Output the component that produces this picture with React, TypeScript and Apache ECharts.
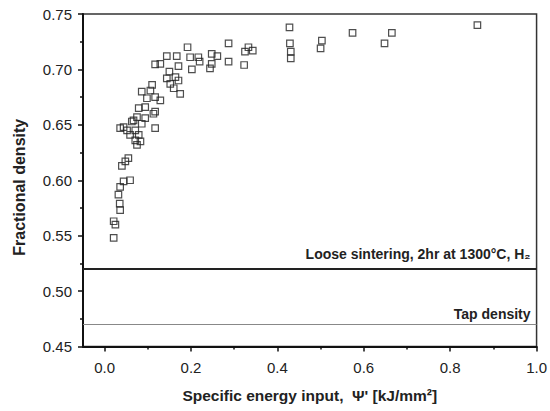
import React, { useEffect, useRef } from "react";
import * as echarts from "echarts";

// Measured points: [specific energy input (kJ/mm²), fractional density]
const densityPoints: [number, number][] = [
  [0.021, 0.548], [0.025, 0.56], [0.021, 0.563], [0.036, 0.573], [0.035, 0.579],
  [0.032, 0.587], [0.036, 0.594], [0.044, 0.599], [0.059, 0.6], [0.04, 0.613],
  [0.048, 0.617], [0.055, 0.62],
  [0.075, 0.632], [0.083, 0.635], [0.071, 0.636], [0.059, 0.641], [0.079, 0.641],
  [0.036, 0.647], [0.052, 0.645], [0.071, 0.645], [0.117, 0.647], [0.063, 0.653],
  [0.086, 0.651], [0.075, 0.657], [0.094, 0.656], [0.079, 0.665], [0.094, 0.666],
  [0.117, 0.662], [0.086, 0.68], [0.106, 0.681], [0.117, 0.675], [0.098, 0.674],
  [0.129, 0.672], [0.11, 0.686], [0.113, 0.66], [0.044, 0.648], [0.067, 0.654],
  [0.117, 0.7045], [0.129, 0.705], [0.144, 0.712], [0.167, 0.712], [0.171, 0.703],
  [0.15, 0.698], [0.164, 0.693], [0.144, 0.692], [0.152, 0.687], [0.171, 0.69],
  [0.16, 0.683], [0.175, 0.678],
  [0.192, 0.72], [0.198, 0.711], [0.217, 0.711], [0.22, 0.707], [0.202, 0.7],
  [0.248, 0.714], [0.261, 0.712], [0.244, 0.701], [0.248, 0.705], [0.287, 0.7235],
  [0.287, 0.707], [0.323, 0.704], [0.325, 0.716], [0.333, 0.72], [0.343, 0.717],
  [0.428, 0.738], [0.429, 0.7235], [0.431, 0.716], [0.431, 0.71], [0.503, 0.726],
  [0.5, 0.719], [0.574, 0.733], [0.665, 0.733], [0.648, 0.7235], [0.863, 0.74],
];

const refLineNames = ["Loose sintering, 2hr at 1300°C, H₂", "Tap density"];
const refLineValues = [0.521, 0.475];

const xMajorTicks = [0, 0.2, 0.4, 0.6, 0.8, 1.0];
const xMinorTicks = [0.1, 0.3, 0.5, 0.7, 0.9];

const FONT = "'Liberation Sans', Arial, sans-serif";

export default function App() {
  const ref = useRef<HTMLDivElement>(null);
  useEffect(() => {
    if (!ref.current) return;
    const chart = echarts.init(ref.current, undefined, { renderer: "svg" });
    chart.setOption({
      animation: false,
      textStyle: { fontFamily: FONT },
      grid: {
        left: 83,
        right: 13,
        top: 14,
        bottom: 64.5,
        show: true,
        borderColor: "#333",
        borderWidth: 1.5,
        containLabel: false,
      },
      xAxis: [
        {
          type: "value",
          min: -0.05,
          max: 1.0,
          name: "Specific energy input,  Ψ' [kJ/mm²]",
          nameLocation: "middle",
          nameGap: 41,
          nameTextStyle: { fontSize: 15.5, fontWeight: "bold", color: "#222", fontFamily: FONT },
          axisLine: { show: true, onZero: false, lineStyle: { color: "#111", width: 2 } },
          axisTick: {
            show: true,
            inside: false,
            length: 5,
            customValues: xMajorTicks,
            lineStyle: { color: "#111", width: 1.5 },
          },
          axisLabel: {
            customValues: xMajorTicks,
            formatter: (v: number) => v.toFixed(1),
            fontSize: 15,
            color: "#222",
            margin: 13,
            fontFamily: FONT,
          },
          splitLine: { show: false },
        },
        {
          type: "value",
          min: -0.05,
          max: 1.0,
          position: "bottom",
          axisLine: { show: false, onZero: false },
          axisTick: {
            show: true,
            inside: false,
            length: 3,
            customValues: xMinorTicks,
            lineStyle: { color: "#111", width: 1.5 },
          },
          axisLabel: { show: false },
          splitLine: { show: false },
        },
      ],
      yAxis: {
        type: "value",
        min: 0.45,
        max: 0.75,
        interval: 0.05,
        name: "Fractional density",
        nameLocation: "middle",
        nameRotate: 90,
        nameGap: 56,
        nameTextStyle: {
          fontSize: 16,
          fontWeight: "bold",
          color: "#222",
          fontFamily: FONT,
          padding: [0, 14, 0, 0],
        },
        axisLine: { show: true, onZero: false, lineStyle: { color: "#111", width: 2 } },
        axisTick: { show: true, inside: false, length: 5, lineStyle: { color: "#111", width: 1.5 } },
        minorTick: { show: true, splitNumber: 2, length: 3, lineStyle: { color: "#111", width: 1.5 } },
        axisLabel: {
          formatter: (v: number) => v.toFixed(2),
          fontSize: 15,
          color: "#222",
          margin: 11,
          fontFamily: FONT,
        },
        splitLine: { show: false },
        minorSplitLine: { show: false },
      },
      series: [
        {
          type: "scatter",
          xAxisIndex: 0,
          data: densityPoints,
          symbol: "rect",
          symbolSize: 6.5,
          itemStyle: { color: "rgba(0,0,0,0)", borderColor: "#222", borderWidth: 1.2 },
          markLine: {
            silent: true,
            symbol: ["none", "none"],
            data: [
              {
                yAxis: refLineValues[0],
                lineStyle: { color: "#222", width: 2, type: "solid" },
                label: {
                  show: true,
                  position: "insideEndTop",
                  formatter: refLineNames[0],
                  distance: [6, 8],
                  fontSize: 14,
                  fontWeight: "bold",
                  color: "#222",
                  fontFamily: FONT,
                },
              },
              {
                yAxis: refLineValues[1],
                lineStyle: { color: "#888", width: 1, type: "solid" },
                label: {
                  show: true,
                  position: "insideEndTop",
                  formatter: refLineNames[1],
                  distance: [6, 3],
                  fontSize: 14,
                  fontWeight: "bold",
                  color: "#222",
                  fontFamily: FONT,
                },
              },
            ],
          },
        },
      ],
    });
    return () => chart.dispose();
  }, []);
  return (
    <div
      ref={ref}
      style={{ position: "fixed", left: 0, top: 0, width: 550, height: 411, background: "#fff" }}
    />
  );
}
